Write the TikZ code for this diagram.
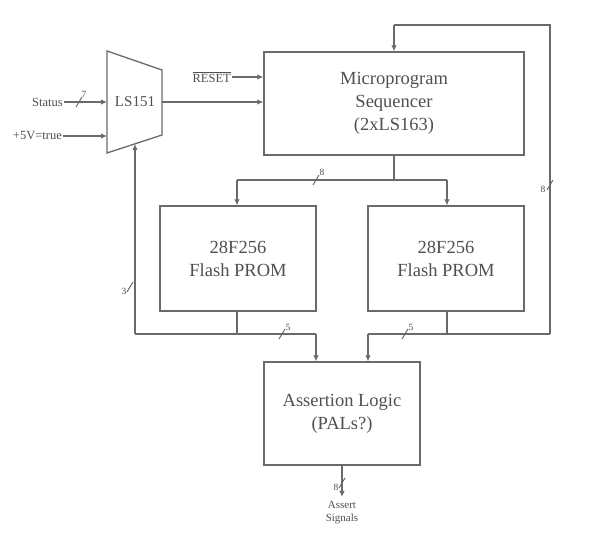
\documentclass[tikz,border=0pt]{standalone}
\usepackage{fontspec}
\setmainfont{Liberation Serif}
\usetikzlibrary{arrows.meta}
\definecolor{linegray}{HTML}{6A6A6A}
\definecolor{textgray}{HTML}{505050}
\begin{document}
\begin{tikzpicture}[x=1pt,y=-1pt,
  wire/.style={draw=linegray, line width=1.3pt},
  arr/.style={wire, -{Latex[length=6pt,width=5.5pt]}},
  box/.style={draw=linegray, line width=1.3pt, inner sep=0pt, text=textgray, align=center,
              font=\fontsize{18.5}{23}\selectfont},
  lab/.style={text=textgray, inner sep=1pt, font=\fontsize{12.5}{14}\selectfont},
  buslab/.style={text=textgray, inner sep=0.5pt, font=\fontsize{9.5}{10}\selectfont},
  busmark/.pic={\draw[draw=linegray, line width=1pt] (-3,5) -- (3,-5);}
]
\useasboundingbox (0,0) rectangle (614,545);
\fill[white] (0,0) rectangle (614,545);

% ---- multiplexer LS151 ----
\coordinate (mtl) at (107,51);
\coordinate (mtr) at (162,70);
\coordinate (mbr) at (162,135);
\coordinate (mbl) at (107,153);
\draw[wire, line join=miter] (mtl) -- (mtr) -- (mbr) -- (mbl) -- cycle;
\node[lab, font=\fontsize{15}{16}\selectfont] (mux) at (135,102) {LS151};
\coordinate (muxin1) at (107,102);
\coordinate (muxin2) at (107,136);
\coordinate (muxout) at (162,102);
\coordinate (muxsel) at (135,144);

% ---- boxes ----
\node[box, minimum width=260pt, minimum height=103pt] (seq) at (394,103.5)
  {Microprogram\\Sequencer\\(2xLS163)};
\node[box, minimum width=156pt, minimum height=105pt] (promL) at (238,258.5)
  {28F256\\Flash PROM};
\node[box, minimum width=156pt, minimum height=105pt] (promR) at (446,258.5)
  {28F256\\Flash PROM};
\node[box, minimum width=156pt, minimum height=103pt] (assert) at (342,413.5)
  {Assertion Logic\\(PALs?)};

% ---- inputs ----
\node[lab, anchor=east] (status) at (64,102) {Status};
\node[lab, anchor=east] (true) at (63,136) {+5V=true};
\node[lab, anchor=east] (reset) at (232,77) {$\overline{\mbox{RESET}}$};
\draw[arr] (status.east) -- (muxin1);
\pic at (79,102) {busmark};
\node[buslab] (lstatus) at (84,94) {7};
\draw[arr] (true.east) -- (muxin2);
\draw[arr] (reset.east) -- (seq.west |- reset.east);
\draw[arr] (muxout) -- (seq.west |- muxout);

% ---- sequencer to PROMs ----
\coordinate (sj) at (394,180);
\coordinate (sl) at (237,180);
\coordinate (sr) at (447,180);
\draw[wire] (seq.south) -- (sj);
\draw[wire] (sl) -- (sr);
\draw[arr] (sl) -- (promL.north -| sl);
\draw[arr] (sr) -- (promR.north -| sr);
\pic at (316,180) {busmark};
\node[buslab] (lseq) at (322,172) {8};

% ---- PROM outputs ----
\coordinate (lb) at (237,334);
\coordinate (lc) at (135,334);
\coordinate (ld) at (316,334);
\coordinate (rb) at (447,334);
\coordinate (rc) at (368,334);
\coordinate (rd) at (550,334);
\coordinate (ft) at (550,25);
\coordinate (fs) at (394,25);

\draw[wire] (promL.south -| lb) -- (lb);
\draw[wire] (lc) -- (ld);
\draw[arr] (ld) -- (assert.north -| ld);
\draw[arr] (lc) -- (muxsel);
\pic at (130,287) {busmark};
\node[buslab] (lmux) at (124,291) {3};
\pic at (282,334) {busmark};
\node[buslab] (lL) at (288,327) {5};

\draw[wire] (promR.south -| rb) -- (rb);
\draw[wire] (rc) -- (rd);
\draw[arr] (rc) -- (assert.north -| rc);
\pic at (405,334) {busmark};
\node[buslab] (lR) at (411,327) {5};

\draw[wire] (rd) -- (ft) -- (fs);
\draw[arr] (fs) -- (seq.north -| fs);
\pic at (550,185) {busmark};
\node[buslab] (lfb) at (543,189) {8};

% ---- output ----
\coordinate (out) at (342,497);
\draw[arr] (assert.south) -- (out);
\pic at (342,483) {busmark};
\node[buslab] (lout) at (336,487) {8};
\node[lab, align=center, font=\fontsize{11}{13}\selectfont, anchor=north] (sig) at (342,500)
  {Assert\\Signals};
\end{tikzpicture}
\end{document}
